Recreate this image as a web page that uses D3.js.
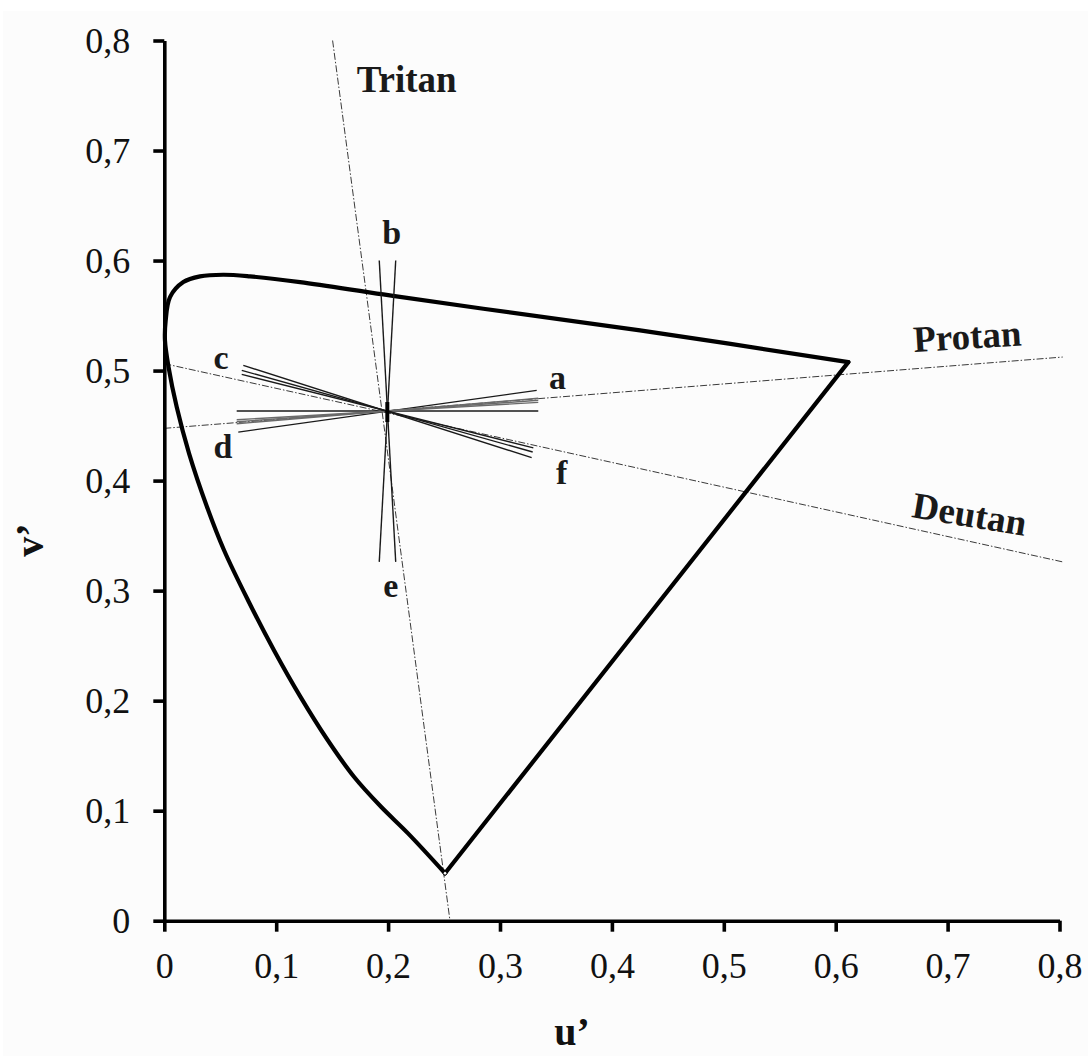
<!DOCTYPE html>
<html><head><meta charset="utf-8">
<script src="https://cdn.jsdelivr.net/npm/d3@7"></script>
<style>
html,body{margin:0;padding:0;background:#fff;}
svg{display:block;}
</style></head><body>
<svg id="chart" width="1088" height="1056"></svg>
<script>
// ---- data (CIE 1976 u'v') ----
const tickValues = [0, 0.1, 0.2, 0.3, 0.4, 0.5, 0.6, 0.7, 0.8];
const tickLabels = ["0", "0,1", "0,2", "0,3", "0,4", "0,5", "0,6", "0,7", "0,8"];

// spectral locus, from the red end along the top, round the left, down to the violet end
const locusU = [0.6113, 0.4251, 0.2851, 0.1957, 0.1213, 0.0766, 0.0527, 0.0319, 0.0170, 0.0051, 0.0012, 0.0006, 0.0038, 0.0111, 0.0221, 0.0382, 0.0534, 0.0748, 0.0980, 0.1217, 0.1458, 0.1695, 0.1937, 0.2178, 0.2509];
const locusV = [0.5077, 0.5366, 0.5562, 0.5692, 0.5804, 0.5856, 0.5871, 0.5856, 0.5804, 0.5668, 0.5450, 0.5274, 0.5032, 0.4668, 0.4248, 0.3760, 0.3367, 0.2913, 0.2459, 0.2035, 0.1645, 0.1308, 0.1035, 0.0794, 0.0431];
// purple line (violet end -> red end)
const purpleU = [0.2509, 0.6113];
const purpleV = [0.0431, 0.5077];

// confusion lines
const confusionNames = ["Protan", "Deutan", "Tritan"];
const confusionU1 = [0, 0, 0.1504];
const confusionV1 = [0.4475, 0.5063, 0.8];
const confusionU2 = [0.8029, 0.8029, 0.2553];
const confusionV2 = [0.5123, 0.3261, 0];
const confusionLabelU = [0.670, 0.667, 0.1719];
const confusionLabelV = [0.5168, 0.3669, 0.7536];

// measured axes of the discrimination lines through the test point
const starIds = ["h", "ad", "p1", "p2", "p3", "cf1", "cf2", "cf3", "be1", "be2"];
const starU1 = [0.0647, 0.0661, 0.0647, 0.0647, 0.0647, 0.0706, 0.0692, 0.0692, 0.1921, 0.2068];
const starV1 = [0.4632, 0.4441, 0.4517, 0.4535, 0.4553, 0.5047, 0.5002, 0.4966, 0.6001, 0.6001];
const starU2 = [0.3342, 0.3328, 0.3342, 0.3342, 0.3342, 0.3283, 0.3292, 0.3298, 0.2068, 0.1921];
const starV2 = [0.4632, 0.4820, 0.4748, 0.4730, 0.4711, 0.4209, 0.4260, 0.4298, 0.3261, 0.3261];
const centerBarU = [0.1993, 0.1993];
const centerBarV = [0.4714, 0.4532];

const letterNames = ["a", "b", "c", "d", "e", "f"];
const letterU = [0.3514, 0.2032, 0.0507, 0.0525, 0.2024, 0.3551];
const letterV = [0.4836, 0.6146, 0.5017, 0.4209, 0.2943, 0.3973];

// ---- drawing ----
const svg = d3.select("#chart");
const serif = "'Liberation Serif','Times New Roman',serif";

const x = d3.scaleLinear().domain([0, 0.8]).range([164.3, 1059.5]);
const y = d3.scaleLinear().domain([0, 0.8]).range([920.7, 40.5]);

svg.append("rect").attr("x", 3).attr("y", 11).attr("width", 1085).attr("height", 1045).attr("fill", "#fcfcfc");

const fmt = d => tickLabels[tickValues.indexOf(d)];

// confusion lines (dash-dot)
const conf = svg.append("g");
confusionNames.forEach((n, i) => {
  conf.append("line")
    .attr("x1", x(confusionU1[i])).attr("y1", y(confusionV1[i]))
    .attr("x2", x(confusionU2[i])).attr("y2", y(confusionV2[i]))
    .attr("stroke", "#3a3a3a").attr("stroke-width", 1)
    .attr("stroke-dasharray", "7,2,1.5,2");
});

// spectral locus
const locusPts = locusU.map((u, i) => [x(u), y(locusV[i])]);
svg.append("path")
  .attr("d", d3.line().curve(d3.curveCatmullRom.alpha(0.5))(locusPts))
  .attr("fill", "none").attr("stroke", "#000").attr("stroke-width", 4.2)
  .attr("stroke-linejoin", "round").attr("stroke-linecap", "round");
svg.append("path")
  .attr("d", d3.line()(purpleU.map((u, i) => [x(u), y(purpleV[i])])))
  .attr("fill", "none").attr("stroke", "#000").attr("stroke-width", 4.2)
  .attr("stroke-linecap", "round");
svg.append("circle").attr("cx", x(purpleU[0])).attr("cy", y(purpleV[0])).attr("r", 1.8)
  .attr("fill", "#fff").attr("stroke", "#000").attr("stroke-width", 0.8);

// star lines
const starColor = id => id.startsWith("p") ? "#6a6a6a" : "#1a1a1a";
starIds.forEach((id, i) => {
  svg.append("line")
    .attr("x1", x(starU1[i])).attr("y1", y(starV1[i]))
    .attr("x2", x(starU2[i])).attr("y2", y(starV2[i]))
    .attr("stroke", starColor(id)).attr("stroke-width", 1.4);
});
svg.append("line")
  .attr("x1", x(centerBarU[0])).attr("y1", y(centerBarV[0]))
  .attr("x2", x(centerBarU[1])).attr("y2", y(centerBarV[1]))
  .attr("stroke", "#000").attr("stroke-width", 4);

// axes
const xAxis = d3.axisBottom(x).tickValues(tickValues).tickFormat(fmt).tickSize(11).tickSizeOuter(0).tickPadding(21);
const yAxis = d3.axisLeft(y).tickValues(tickValues).tickFormat(fmt).tickSize(11).tickSizeOuter(0).tickPadding(23);
const gx = svg.append("g").attr("transform", `translate(0,${y(0)})`).call(xAxis);
const gy = svg.append("g").attr("transform", `translate(${x(0)},0)`).call(yAxis);
[gx, gy].forEach(g => {
  g.select(".domain").attr("stroke", "#000").attr("stroke-width", 3.6);
  g.selectAll(".tick line").attr("stroke", "#000").attr("stroke-width", 3.6);
  g.selectAll(".tick text").attr("font-family", serif).attr("font-size", 36).attr("fill", "#111");
});

// axis titles
svg.append("text").attr("x", 572).attr("y", 1045).attr("text-anchor", "middle")
  .attr("font-family", serif).attr("font-weight", "bold").attr("font-size", 40).attr("fill", "#111")
  .text("u\u2019");
svg.append("text").attr("transform", "translate(43,540) rotate(-90)").attr("text-anchor", "middle")
  .attr("font-family", serif).attr("font-weight", "bold").attr("font-size", 40).attr("fill", "#111")
  .text("v\u2019");

// confusion line labels
const confRot = [-3.5, 9.5, 0];
confusionNames.forEach((n, i) => {
  const px = x(confusionLabelU[i]), py = y(confusionLabelV[i]);
  svg.append("text").attr("transform", `translate(${px},${py}) rotate(${confRot[i]})`)
    .attr("font-family", serif).attr("font-weight", "bold").attr("font-size", 37).attr("fill", "#1a1a1a")
    .text(n);
});

// letter labels
letterNames.forEach((n, i) => {
  svg.append("text").attr("x", x(letterU[i])).attr("y", y(letterV[i])).attr("text-anchor", "middle")
    .attr("font-family", serif).attr("font-weight", "bold").attr("font-size", 34).attr("fill", "#1a1a1a")
    .text(n);
});
</script>
</body></html>
